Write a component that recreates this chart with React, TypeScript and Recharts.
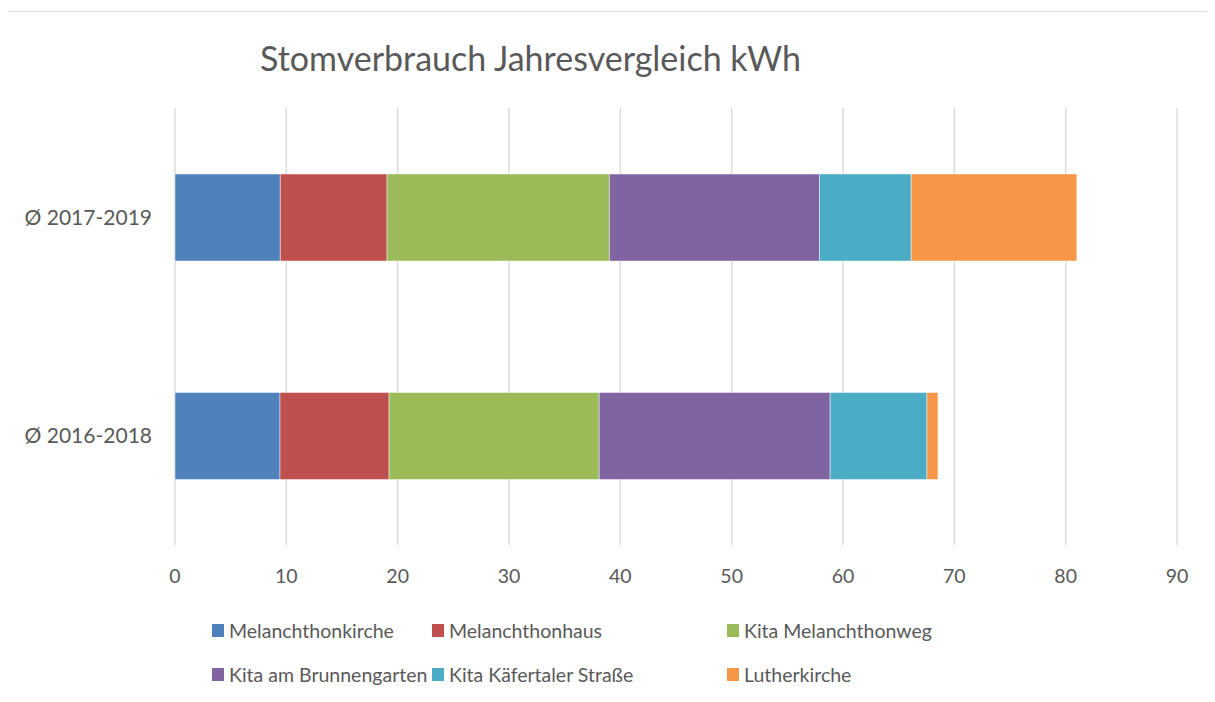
import { BarChart, Bar, XAxis, YAxis, CartesianGrid, Legend } from 'recharts';

const categories = ['Ø 2017-2019', 'Ø 2016-2018'];
const melanchthonkirche = [9.46, 9.43];
const melanchthonhaus = [9.59, 9.8];
const kitaMelanchthonweg = [19.97, 18.87];
const kitaBrunnengarten = [18.87, 20.75];
const kitaKaefertal = [8.24, 8.69];
const lutherkirche = [14.87, 0.99];
const xTicks = [0, 10, 20, 30, 40, 50, 60, 70, 80, 90];

const series = [
  { key: 'Melanchthonkirche', values: melanchthonkirche, color: '#4F81BD' },
  { key: 'Melanchthonhaus', values: melanchthonhaus, color: '#C0504D' },
  { key: 'Kita Melanchthonweg', values: kitaMelanchthonweg, color: '#9BBB59' },
  { key: 'Kita am Brunnengarten', values: kitaBrunnengarten, color: '#8064A2' },
  { key: 'Kita Käfertaler Straße', values: kitaKaefertal, color: '#4BACC6' },
  { key: 'Lutherkirche', values: lutherkirche, color: '#F79646' },
];

const data = categories.map((name, i) => {
  const row: Record<string, string | number> = { name };
  series.forEach((s) => {
    row[s.key] = s.values[i];
  });
  return row;
});

const FONT = 'Lato, "Open Sans", sans-serif';
const TEXT = '#595959';

// Excel-style legend: two rows, three uneven columns
const colLeft = [204, 424, 719];
const renderLegend = () => (
  <div style={{ position: 'relative', width: 1199, height: 90, fontFamily: FONT }}>
    {series.map((s, i) => (
      <div
        key={s.key}
        style={{
          position: 'absolute',
          left: colLeft[i % 3],
          top: Math.floor(i / 3) * 44,
          height: 28,
          display: 'flex',
          alignItems: 'center',
          whiteSpace: 'nowrap',
          fontSize: 19.5,
          color: TEXT,
        }}
      >
        <span style={{ width: 12, height: 13, background: s.color, marginRight: 5, display: 'inline-block' }} />
        {s.key}
      </div>
    ))}
  </div>
);

export default function App() {
  return (
    <div style={{ position: 'relative', width: 1199, height: 686 }}>
      <div
        style={{
          position: 'absolute',
          left: -1,
          top: 3,
          right: 0,
          bottom: -8,
          borderTop: '1px solid #d9d9d9',
          borderLeft: '1px solid #d9d9d9',
        }}
      />
      <div
        style={{
          position: 'absolute',
          left: 252,
          top: 33,
          fontFamily: FONT,
          fontSize: 34,
          lineHeight: '34px',
          color: TEXT,
          whiteSpace: 'nowrap',
        }}
      >
        Stomverbrauch Jahresvergleich kWh
      </div>
      <BarChart
        width={1199}
        height={686}
        data={data}
        layout="vertical"
        margin={{ top: 100, right: 30, bottom: 119, left: 0 }}
        style={{ position: 'absolute', left: 0, top: 0 }}
      >
        <CartesianGrid horizontal={false} stroke="#d9d9d9" strokeWidth={1.4} />
        <XAxis
          type="number"
          domain={[0, 90]}
          ticks={xTicks}
          axisLine={false}
          tickLine={false}
          tickSize={0}
          tickMargin={24}
          interval={0}
          tick={{ fill: TEXT, fontSize: 19.5, fontFamily: FONT }}
        />
        <YAxis
          type="category"
          dataKey="name"
          width={167}
          axisLine={false}
          tickLine={false}
          tickSize={0}
          tickMargin={23}
          tick={{ fill: TEXT, fontSize: 21, fontFamily: FONT }}
        />
        <Legend
          layout="horizontal"
          verticalAlign="middle"
          align="center"
          content={renderLegend}
          wrapperStyle={{ position: 'absolute', left: 0, top: 608, width: 1199 }}
        />
        {series.map((s) => (
          <Bar
            key={s.key}
            dataKey={s.key}
            stackId="a"
            fill={s.color}
            stroke="#ffffff"
            strokeOpacity={0.45}
            strokeWidth={1}
            barSize={87}
            isAnimationActive={false}
          />
        ))}
      </BarChart>
    </div>
  );
}
